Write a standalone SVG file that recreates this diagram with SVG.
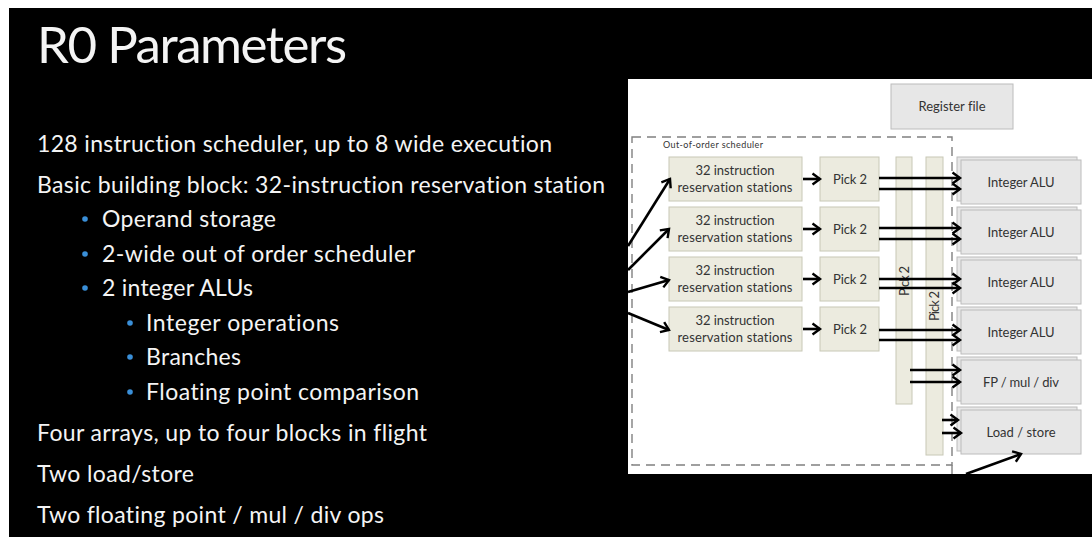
<svg xmlns="http://www.w3.org/2000/svg" width="1092" height="537" viewBox="0 0 1092 537">
  <style>
    text { font-variant-ligatures: none; }
    .slide { font-family: Lato, "Open Sans", "Liberation Sans", sans-serif; fill: #f4f4f4; }
    .title { font-size: 51px; }
    .body { font-size: 23px; }
    .bullet { fill: #3a8fd8; }
    .lbl { font-family: Lato, "Open Sans", "Liberation Sans", sans-serif; fill: #333333; font-size: 13px; text-anchor: middle; }
    .small { font-size: 9px; text-anchor: start; }
    .rs { fill: #ecebdf; stroke: #c8c8b6; stroke-width: 1; }
    .unit { fill: #e7e7e7; stroke: #bcbcbc; stroke-width: 1; }
    .dash { fill: none; stroke: #808080; stroke-width: 1.4; stroke-dasharray: 9 6; }
    .wire { fill: none; stroke: #000; stroke-width: 2.6; }
  </style>
  <defs>
    <marker id="arr" markerWidth="12" markerHeight="14" refX="9" refY="7" orient="auto" markerUnits="userSpaceOnUse">
      <path d="M1.5,1.5 L9,7 L1.5,12.5" fill="none" stroke="#000" stroke-width="2.4"/>
    </marker>
  </defs>

  <!-- slide background with thin light border at top and left -->
  <rect x="0" y="0" width="1092" height="537" fill="#ffffff"/>
  <rect x="9" y="8" width="1083" height="529" fill="#000000"/>

  <!-- slide text -->
  <g id="title">
    <text class="slide title" x="37" y="63" textLength="310">R0 Parameters</text>
  </g>
  <g id="bullets">
    <text class="slide body" x="37" y="152" textLength="515">128 instruction scheduler, up to 8 wide execution</text>
    <text class="slide body" x="37" y="193" textLength="568">Basic building block: 32-instruction reservation station</text>
    <circle class="bullet" cx="85" cy="219" r="2.8"/>
    <text class="slide body" x="102" y="227" textLength="174">Operand storage</text>
    <circle class="bullet" cx="85" cy="254" r="2.8"/>
    <text class="slide body" x="102" y="262" textLength="313">2-wide out of order scheduler</text>
    <circle class="bullet" cx="85" cy="288" r="2.8"/>
    <text class="slide body" x="102" y="296" textLength="151">2 integer ALUs</text>
    <circle class="bullet" cx="130" cy="323" r="2.8"/>
    <text class="slide body" x="146" y="331" textLength="193">Integer operations</text>
    <circle class="bullet" cx="130" cy="357" r="2.8"/>
    <text class="slide body" x="146" y="365" textLength="95">Branches</text>
    <circle class="bullet" cx="130" cy="392" r="2.8"/>
    <text class="slide body" x="146" y="400" textLength="273">Floating point comparison</text>
    <text class="slide body" x="37" y="441" textLength="390">Four arrays, up to four blocks in flight</text>
    <text class="slide body" x="37" y="482" textLength="157">Two load/store</text>
    <text class="slide body" x="37" y="523" textLength="347">Two floating point / mul / div ops</text>
  </g>

  <!-- diagram panel -->
  <rect x="628" y="79" width="464" height="395" fill="#ffffff"/>

  <g id="register-file">
    <rect class="unit" x="891" y="84" width="122" height="45"/>
    <text class="lbl" x="952" y="111" textLength="67">Register file</text>
  </g>

  <g id="ooo-scheduler">
    <rect class="dash" x="632" y="137" width="320" height="328"/>
    <line class="dash" x1="952" y1="465" x2="952" y2="474"/>
    <text class="lbl small" x="663" y="148" textLength="100">Out-of-order scheduler</text>
  </g>

  <g id="rs-0">
    <rect class="rs" x="669" y="157" width="133" height="44"/>
    <text class="lbl" x="735" y="175" textLength="79">32 instruction</text>
    <text class="lbl" x="735" y="192" textLength="115">reservation stations</text>
  </g>
  <g id="rs-1">
    <rect class="rs" x="669" y="207" width="133" height="44"/>
    <text class="lbl" x="735" y="225" textLength="79">32 instruction</text>
    <text class="lbl" x="735" y="242" textLength="115">reservation stations</text>
  </g>
  <g id="rs-2">
    <rect class="rs" x="669" y="257" width="133" height="44"/>
    <text class="lbl" x="735" y="275" textLength="79">32 instruction</text>
    <text class="lbl" x="735" y="292" textLength="115">reservation stations</text>
  </g>
  <g id="rs-3">
    <rect class="rs" x="669" y="307" width="133" height="44"/>
    <text class="lbl" x="735" y="325" textLength="79">32 instruction</text>
    <text class="lbl" x="735" y="342" textLength="115">reservation stations</text>
  </g>

  <g id="pick-0">
    <rect class="rs" x="820" y="157" width="59" height="44"/>
    <text class="lbl" x="850" y="184" textLength="34">Pick 2</text>
  </g>
  <g id="pick-1">
    <rect class="rs" x="820" y="207" width="59" height="44"/>
    <text class="lbl" x="850" y="234" textLength="34">Pick 2</text>
  </g>
  <g id="pick-2">
    <rect class="rs" x="820" y="257" width="59" height="44"/>
    <text class="lbl" x="850" y="284" textLength="34">Pick 2</text>
  </g>
  <g id="pick-3">
    <rect class="rs" x="820" y="307" width="59" height="44"/>
    <text class="lbl" x="850" y="334" textLength="34">Pick 2</text>
  </g>

  <g id="pick-bar-fp">
    <rect class="rs" x="896" y="157" width="16" height="247"/>
    <text class="lbl" transform="translate(908.5,281) rotate(-90)" x="0" y="0" textLength="30">Pick 2</text>
  </g>
  <g id="pick-bar-ls">
    <rect class="rs" x="926" y="157" width="17" height="298"/>
    <text class="lbl" transform="translate(939,306) rotate(-90)" x="0" y="0" textLength="30">Pick 2</text>
  </g>

  <g id="alu-0">
    <rect class="unit" x="957" y="157" width="120" height="44"/>
    <rect class="unit" x="961" y="160" width="120" height="44"/>
    <text class="lbl" x="1021" y="187" textLength="67">Integer ALU</text>
  </g>
  <g id="alu-1">
    <rect class="unit" x="957" y="207" width="120" height="44"/>
    <rect class="unit" x="961" y="210" width="120" height="44"/>
    <text class="lbl" x="1021" y="237" textLength="67">Integer ALU</text>
  </g>
  <g id="alu-2">
    <rect class="unit" x="957" y="257" width="120" height="44"/>
    <rect class="unit" x="961" y="260" width="120" height="44"/>
    <text class="lbl" x="1021" y="287" textLength="67">Integer ALU</text>
  </g>
  <g id="alu-3">
    <rect class="unit" x="957" y="307" width="120" height="44"/>
    <rect class="unit" x="961" y="310" width="120" height="44"/>
    <text class="lbl" x="1021" y="337" textLength="67">Integer ALU</text>
  </g>
  <g id="fp-mul-div">
    <rect class="unit" x="957" y="357" width="120" height="44"/>
    <rect class="unit" x="961" y="360" width="120" height="44"/>
    <text class="lbl" x="1021" y="387" textLength="76">FP / mul / div</text>
  </g>
  <g id="load-store">
    <rect class="unit" x="957" y="407" width="120" height="44"/>
    <rect class="unit" x="961" y="410" width="120" height="44"/>
    <text class="lbl" x="1021" y="437" textLength="69">Load / store</text>
  </g>

  <g id="connectors">
    <!-- dispatch into the reservation stations -->
    <line class="wire" x1="628" y1="246" x2="670" y2="179" marker-end="url(#arr)"/>
    <line class="wire" x1="628" y1="270" x2="669" y2="229" marker-end="url(#arr)"/>
    <line class="wire" x1="628" y1="292" x2="669" y2="280" marker-end="url(#arr)"/>
    <line class="wire" x1="628" y1="313" x2="669" y2="330" marker-end="url(#arr)"/>
    <!-- station to picker -->
    <line class="wire" x1="803" y1="179" x2="820" y2="179" marker-end="url(#arr)"/>
    <line class="wire" x1="803" y1="229" x2="820" y2="229" marker-end="url(#arr)"/>
    <line class="wire" x1="803" y1="279" x2="820" y2="279" marker-end="url(#arr)"/>
    <line class="wire" x1="803" y1="329" x2="820" y2="329" marker-end="url(#arr)"/>
    <!-- picker to integer ALUs -->
    <line class="wire" x1="879" y1="178" x2="960" y2="178" marker-end="url(#arr)"/>
    <line class="wire" x1="879" y1="189" x2="960" y2="189" marker-end="url(#arr)"/>
    <line class="wire" x1="879" y1="228" x2="960" y2="228" marker-end="url(#arr)"/>
    <line class="wire" x1="879" y1="239" x2="960" y2="239" marker-end="url(#arr)"/>
    <line class="wire" x1="879" y1="279" x2="960" y2="279" marker-end="url(#arr)"/>
    <line class="wire" x1="879" y1="288" x2="960" y2="288" marker-end="url(#arr)"/>
    <line class="wire" x1="879" y1="330" x2="960" y2="330" marker-end="url(#arr)"/>
    <line class="wire" x1="879" y1="340" x2="960" y2="340" marker-end="url(#arr)"/>
    <!-- shared pickers to FP and load/store -->
    <line class="wire" x1="910" y1="370" x2="960" y2="370" marker-end="url(#arr)"/>
    <line class="wire" x1="910" y1="382" x2="960" y2="382" marker-end="url(#arr)"/>
    <line class="wire" x1="942" y1="420" x2="958" y2="420" marker-end="url(#arr)"/>
    <line class="wire" x1="942" y1="433" x2="961" y2="433" marker-end="url(#arr)"/>
    <!-- return path into load/store -->
    <line class="wire" x1="966" y1="474" x2="1021" y2="454" marker-end="url(#arr)"/>
  </g>
</svg>
